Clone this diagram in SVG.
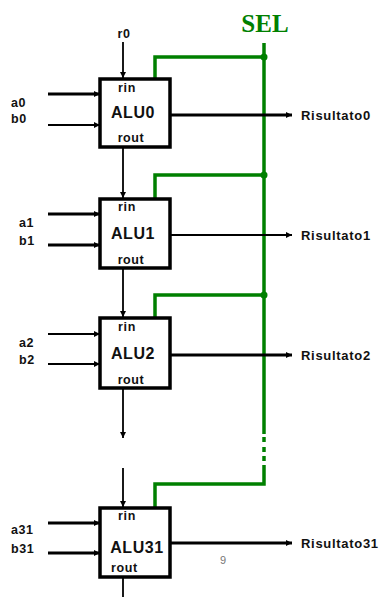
<svg xmlns="http://www.w3.org/2000/svg" width="382" height="597" viewBox="0 0 382 597">
<defs>
<marker id="ah" viewBox="0 0 6 6" refX="6" refY="3" markerWidth="6" markerHeight="6" markerUnits="userSpaceOnUse" orient="auto">
<path d="M0,0 L6,3 L0,6 z" fill="#000"/>
</marker>
<style>
.box{fill:#fff;stroke:#000;stroke-width:3.5}
.w{stroke:#000;fill:none}
.thick{stroke-width:3}
.thin{stroke-width:1.8}
.g{stroke:#008000;stroke-width:3.5;fill:none}
.lbl{font-family:"Liberation Sans",Arial,sans-serif;font-weight:bold;font-size:12.5px;letter-spacing:0.6px;fill:#111}
.in{font-family:"Liberation Sans",Arial,sans-serif;font-weight:bold;font-size:12.5px;letter-spacing:0.6px;fill:#111;text-anchor:middle}
.name{font-family:"Liberation Sans",Arial,sans-serif;font-weight:bold;font-size:16px;letter-spacing:0.6px;fill:#111;text-anchor:middle}
.out{font-family:"Liberation Sans",Arial,sans-serif;font-weight:bold;font-size:13px;letter-spacing:0.7px;fill:#111}
</style>
</defs>
<text x="265" y="32" font-family="Liberation Serif,Times New Roman,serif" font-weight="bold" font-size="25" fill="#008000" text-anchor="middle">SEL</text>
<g id="connectors">
<line class="g" x1="264" y1="43" x2="264" y2="434"/>
<line class="g" x1="264" y1="437" x2="264" y2="442"/>
<line class="g" x1="264" y1="447" x2="264" y2="452"/>
<line class="g" x1="264" y1="456" x2="264" y2="461"/>
<polyline class="g" points="264,465 264,484 155,484 155,508"/>
<polyline class="g" points="264,57 155,57 155,80"/>
<polyline class="g" points="264,175 155,175 155,199"/>
<polyline class="g" points="264,295 155,295 155,318"/>
<circle cx="264" cy="57" r="3.5" fill="#008000"/>
<circle cx="264" cy="175" r="3.5" fill="#008000"/>
<circle cx="264" cy="295" r="3.5" fill="#008000"/>
<line class="w thin" x1="123" y1="42" x2="123" y2="78" marker-end="url(#ah)"/>
<line class="w thin" x1="123" y1="147" x2="123" y2="198" marker-end="url(#ah)"/>
<line class="w thin" x1="123" y1="268" x2="123" y2="317" marker-end="url(#ah)"/>
<line class="w thin" x1="123" y1="388" x2="123" y2="438" marker-end="url(#ah)"/>
<line class="w thin" x1="123" y1="468" x2="123" y2="507" marker-end="url(#ah)"/>
<line class="w thin" x1="123" y1="577" x2="123" y2="597"/>
<line class="w thick" x1="48" y1="94" x2="100" y2="94" marker-end="url(#ah)"/>
<line class="w thin" x1="48" y1="125" x2="100" y2="125" marker-end="url(#ah)"/>
<line class="w thick" x1="48" y1="214" x2="100" y2="214" marker-end="url(#ah)"/>
<line class="w thick" x1="48" y1="245" x2="100" y2="245" marker-end="url(#ah)"/>
<line class="w thin" x1="48" y1="334" x2="100" y2="334" marker-end="url(#ah)"/>
<line class="w thin" x1="48" y1="364" x2="100" y2="364" marker-end="url(#ah)"/>
<line class="w thick" x1="48" y1="523" x2="100" y2="523" marker-end="url(#ah)"/>
<line class="w thick" x1="48" y1="553" x2="100" y2="553" marker-end="url(#ah)"/>
<line class="w thick" x1="170" y1="115" x2="292" y2="115" marker-end="url(#ah)"/>
<line class="w thin" x1="170" y1="235" x2="292" y2="235" marker-end="url(#ah)"/>
<line class="w thick" x1="170" y1="355" x2="292" y2="355" marker-end="url(#ah)"/>
<line class="w thick" x1="170" y1="543" x2="292" y2="543" marker-end="url(#ah)"/>
</g>
<text class="in" x="124" y="38">r0</text>
<g id="alu0">
<rect class="box" x="100" y="79" width="70" height="68"/>
<text class="in" x="127" y="92">rin</text>
<text class="name" x="133" y="118">ALU0</text>
<text class="in" x="131" y="142">rout</text>
<text class="lbl" x="11" y="107">a0</text>
<text class="lbl" x="11" y="123">b0</text>
<text class="out" x="301" y="120">Risultato0</text>
</g>
<g id="alu1">
<rect class="box" x="100" y="199" width="70" height="69"/>
<text class="in" x="127" y="211">rin</text>
<text class="name" x="133" y="239">ALU1</text>
<text class="in" x="131" y="264">rout</text>
<text class="lbl" x="19" y="227">a1</text>
<text class="lbl" x="19" y="245">b1</text>
<text class="out" x="301" y="240">Risultato1</text>
</g>
<g id="alu2">
<rect class="box" x="100" y="318" width="70" height="70"/>
<text class="in" x="127" y="331">rin</text>
<text class="name" x="133" y="359">ALU2</text>
<text class="in" x="131" y="384">rout</text>
<text class="lbl" x="19" y="347">a2</text>
<text class="lbl" x="19" y="364">b2</text>
<text class="out" x="301" y="360">Risultato2</text>
</g>
<g id="alu31">
<rect class="box" x="100" y="508" width="70" height="69"/>
<text class="in" x="127" y="520">rin</text>
<text class="name" x="137" y="553">ALU31</text>
<text class="lbl" x="111" y="572">rout</text>
<text class="lbl" x="11" y="534">a31</text>
<text class="lbl" x="11" y="553">b31</text>
<text class="out" x="301" y="548">Risultato31</text>
</g>
<text x="223" y="564" font-family="Liberation Sans,Arial,sans-serif" font-size="11" fill="#777" text-anchor="middle">9</text>
</svg>
